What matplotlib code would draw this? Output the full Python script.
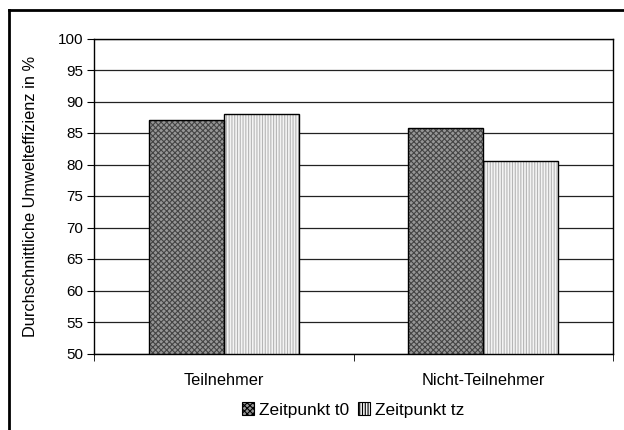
import matplotlib.pyplot as plt
import numpy as np
from matplotlib.patches import Patch
from matplotlib.lines import Line2D

plt.rcParams['font.family'] = ['Liberation Sans', 'DejaVu Sans']
plt.rcParams['hatch.linewidth'] = 0.8

categories = ['Teilnehmer', 'Nicht-Teilnehmer']
series = ['Zeitpunkt t0', 'Zeitpunkt tz']
t0_values = [87.0, 85.8]
tz_values = [88.0, 80.5]

W, H = 624, 430
fig = plt.figure(figsize=(W / 100, H / 100), dpi=100)
ax = fig.add_axes([94 / W, 1 - 353.5 / H, (613 - 94) / W, (353.5 - 38.5) / H])

x = np.arange(len(categories))
bw = 0.289

# styles: (face, hatch, hatch colour)
styles = [('#969696', 'xxxxxx', '#444444'), ('#f4f4f4', '||||||', '#b5b5b5')]

for i, vals in enumerate([t0_values, tz_values]):
    face, hatch, hcol = styles[i]
    pos = x + (i - 0.5) * bw
    ax.bar(pos, np.array(vals) - 50, bw, bottom=50, color=face, hatch=hatch,
           edgecolor=hcol, linewidth=0, zorder=3)
    ax.bar(pos, np.array(vals) - 50, bw, bottom=50, fill=False,
           edgecolor='black', linewidth=1.0, zorder=4)

ax.set_ylim(50, 100)
ax.set_xlim(-0.5, 1.5)
ax.set_yticks(np.arange(50, 101, 5))
ax.yaxis.grid(True, color='#222222', linewidth=0.9)
ax.set_axisbelow(True)
ax.set_xticks(x)
ax.set_xticklabels(categories, fontsize=11.8)
ax.set_xticks([-0.5, 0.5, 1.5], minor=True)
ax.tick_params(axis='x', which='major', length=0, pad=14)
ax.tick_params(axis='x', which='minor', length=5, direction='out', color='black')
ax.tick_params(axis='y', length=5, direction='out', labelsize=11, pad=3)
for s in ax.spines.values():
    s.set_color('black')
    s.set_linewidth(1.0)

ax.set_ylabel('Durchschnittliche Umwelteffizienz in %', fontsize=11.8)
ax.yaxis.set_label_coords(-(94 - 38) / (613 - 94), 0.5)

handles = []
for face, hatch, hcol in styles:
    handles.append(Patch(facecolor=face, hatch=hatch, edgecolor='black', linewidth=0.8))
leg = fig.legend(handles, series, loc='center', bbox_to_anchor=(353.5 / W, 1 - 410 / H),
                 ncol=2, frameon=False, fontsize=12.4, handlelength=0.7, handleheight=0.7,
                 handletextpad=0.3, columnspacing=0.5, borderaxespad=0)

# outer frame (left and top edges visible)
fig.add_artist(Line2D([9 / W, 9 / W], [0, 1 - 10 / H], color='black', linewidth=2))
fig.add_artist(Line2D([9 / W, 1], [1 - 10 / H, 1 - 10 / H], color='black', linewidth=2))

fig.savefig('out.png', dpi=100)
